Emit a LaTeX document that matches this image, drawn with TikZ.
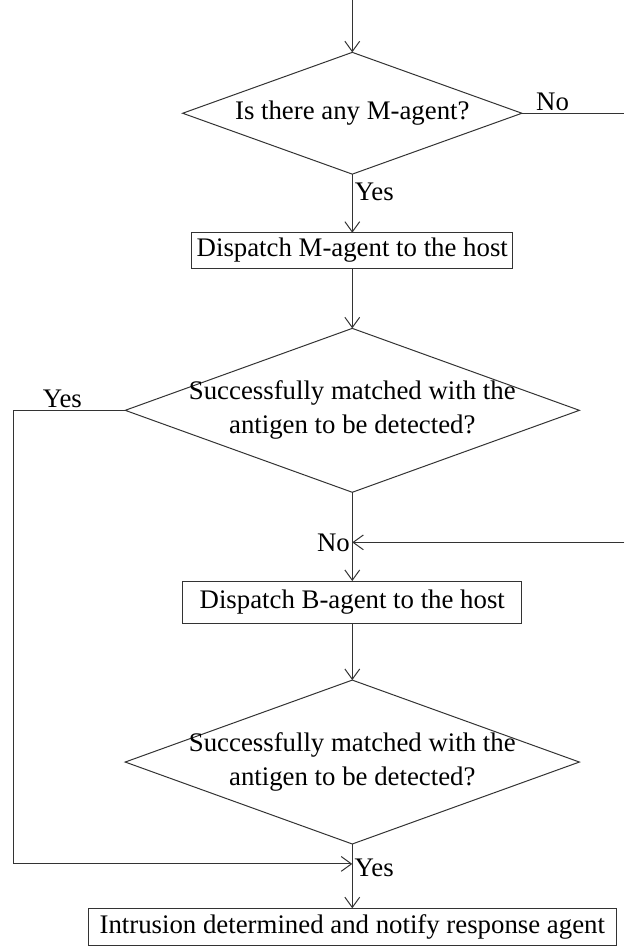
\documentclass[tikz,border=0pt]{standalone}
\usepackage{fontspec}
\setmainfont{Liberation Serif}
\usetikzlibrary{shapes.geometric,arrows.meta}
\tikzset{
  box/.style={draw=black!80, line width=0.5pt, rectangle, minimum height=0.62cm, inner sep=0pt, outer sep=0pt, font=\fontsize{13.4}{16}\selectfont},
  decision/.style={draw=black!80, line width=0.5pt, diamond, inner sep=-4pt, outer sep=0pt, align=center, font=\fontsize{13.4}{17}\selectfont},
  flow/.style={draw=black!80, line width=0.5pt, -{Straight Barb[length=1.8mm,width=2.6mm]}},
  plain/.style={draw=black!80, line width=0.5pt},
  lbl/.style={font=\fontsize{13.4}{16}\selectfont, inner sep=1pt},
}

\begin{document}
\begin{tikzpicture}
			%%%%% START %%%%%
			\useasboundingbox (0,0) rectangle (10.97,-16.64);
			
			\coordinate (in) at (6.19,0);
			\node[decision, aspect=2.78, minimum width=5.96cm, minimum height=2.14cm] (ask) at (6.19,-1.99) {Is there any M-agent?};
			\coordinate (askout) at (10.97,-1.99);
			
			\node[box, minimum width=5.64cm] (sendm) at (6.19,-4.40) {Dispatch M-agent to the host};
			\node[decision, aspect=2.77, minimum width=7.98cm, minimum height=2.88cm] (matchm) at (6.19,-7.21) {Successfully matched with the\\antigen to be detected?};
			
			\coordinate (noin) at (10.97,-9.53);
			\coordinate (nojoin) at (6.19,-9.53);
			\node[box, minimum width=5.96cm, minimum height=0.74cm] (sendb) at (6.19,-10.58) {Dispatch B-agent to the host};
			\node[decision, aspect=2.77, minimum width=7.98cm, minimum height=2.88cm] (matchb) at (6.19,-13.39) {Successfully matched with the\\antigen to be detected?};
			
			\coordinate (leftup) at (0.23,-7.21);
			\coordinate (leftdown) at (0.23,-15.18);
			\coordinate (yesjoin) at (6.19,-15.18);
			\node[box, minimum width=9.28cm, minimum height=0.66cm] (alarm) at (6.19,-16.29) {Intrusion determined and notify response agent};
			
			\draw[flow] (in) -- (ask);
			\draw[plain] (ask.east) -- node[lbl, above, pos=0.3] (nor) {No} (askout);
			\draw[flow] (ask) -- node[lbl, right, pos=0.3] (yesm) {Yes} (sendm);
			\draw[flow] (sendm) -- (matchm);
			
			\draw[plain] (matchm.west) -- node[lbl, above, pos=0.56] (yesl) {Yes} (leftup) -- (leftdown);
			\draw[flow] (leftdown) -- (yesjoin);
			
			\draw[plain] (matchm) -- (nojoin);
			\draw[flow] (noin) -- (nojoin);
			\node[lbl, left] (nolbl) at (nojoin) {No};
			\draw[flow] (nojoin) -- (sendb);
			\draw[flow] (sendb) -- (matchb);
			
			\draw[plain] (matchb) -- (yesjoin);
			\draw[flow] (yesjoin) -- (alarm);
			\node[lbl, right, yshift=-0.07cm] (yeslbl) at (yesjoin) {Yes};
			%%%%% END %%%%%
\end{tikzpicture}
\end{document}
